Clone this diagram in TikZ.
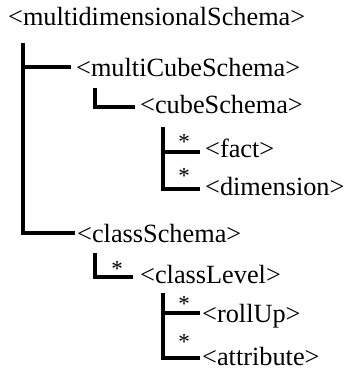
\documentclass[tikz,border=0pt]{standalone}
\usepackage{fontspec}
\setmainfont{Liberation Serif}
\begin{document}
\begin{tikzpicture}[x=1pt,y=-1pt,
  lbl/.style={anchor=base west,inner sep=0pt,font=\fontsize{26.3}{26}\selectfont},
  star/.style={inner sep=0pt,font=\fontsize{23}{23}\selectfont},
  tree/.style={line width=3.6pt,line join=miter,line cap=butt}]
\useasboundingbox (0,0) rectangle (345,372);
% labels
\node[lbl] (md) at (8,25) {<multidimensionalSchema>};
\node[lbl] (mc) at (76,76) {<multiCubeSchema>};
\node[lbl] (cs) at (140,113) {<cubeSchema>};
\node[lbl] (fa) at (205,157) {<fact>};
\node[lbl] (di) at (205,195) {<dimension>};
\node[lbl] (cl) at (77,242) {<classSchema>};
\node[lbl] (lv) at (140,283) {<classLevel>};
\node[lbl] (ru) at (202,322) {<rollUp>};
\node[lbl] (at) at (202,365) {<attribute>};
% asterisks
\node[star] (s1) at (184,142) {*};
\node[star] (s2) at (184,176) {*};
\node[star] (s3) at (117,269) {*};
\node[star] (s4) at (184,304) {*};
\node[star] (s5) at (184,342) {*};
% tree coordinates
\coordinate (a0) at (23,43);
\coordinate (a1) at (71,67);
\coordinate (a2) at (75,233);
\coordinate (b0) at (95,88);
\coordinate (b1) at (135,107);
\coordinate (c0) at (163,127);
\coordinate (c1) at (200,152);
\coordinate (c2) at (200,189);
\coordinate (d0) at (95,253);
\coordinate (d1) at (133,277);
\coordinate (e0) at (163,293);
\coordinate (e1) at (200,313);
\coordinate (e2) at (200,358);
% connectors
\draw[tree] (a0) |- (a2);
\draw[tree] (a0 |- a1) -- (a1);
\draw[tree] (b0) |- (b1);
\draw[tree] (c0) |- (c2);
\draw[tree] (c0 |- c1) -- (c1);
\draw[tree] (d0) |- (d1);
\draw[tree] (e0) |- (e2);
\draw[tree] (e0 |- e1) -- (e1);
\end{tikzpicture}
\end{document}
